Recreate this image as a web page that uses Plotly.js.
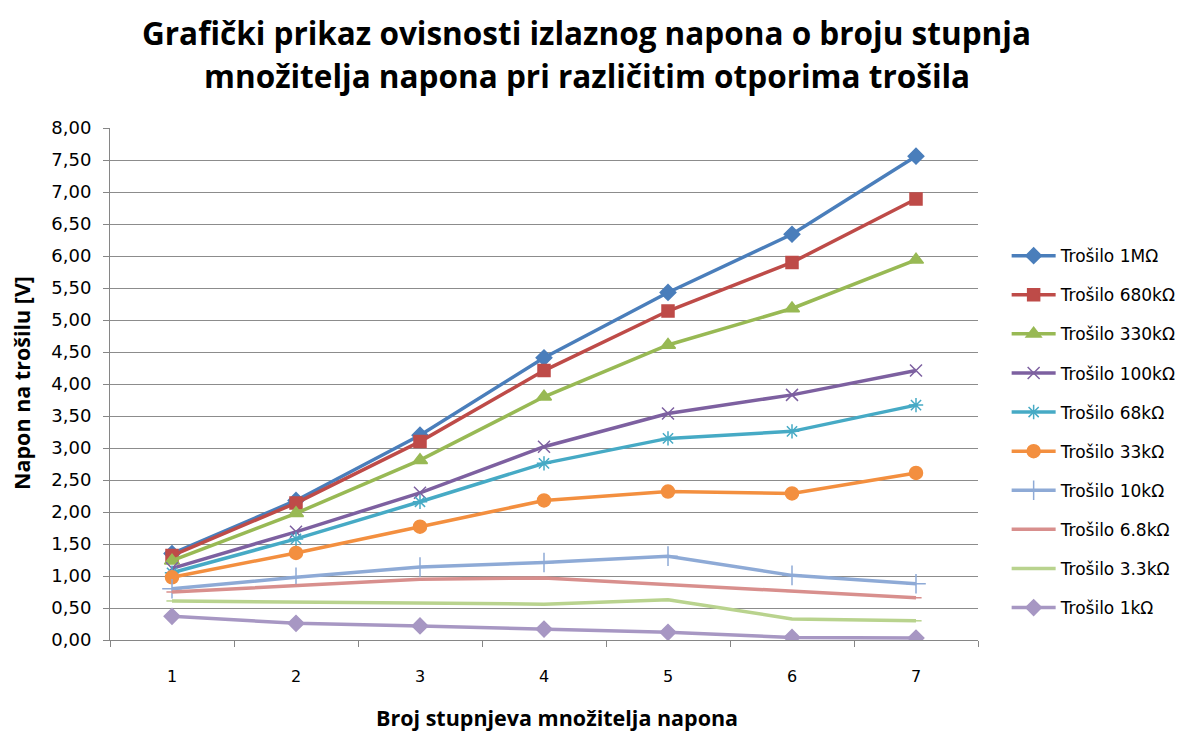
<!DOCTYPE html>
<html>
<head>
<meta charset="utf-8">
<script src="https://cdn.plot.ly/plotly-3.0.1.min.js"></script>
<style>html,body{margin:0;padding:0;background:#fff;}#chart{width:1184px;height:731px;}</style>
</head>
<body>
<div id="chart"></div>
<script>
const categories = ["1", "2", "3", "4", "5", "6", "7"];
const seriesNames = ["Trošilo 1MΩ", "Trošilo 680kΩ", "Trošilo 330kΩ", "Trošilo 100kΩ", "Trošilo 68kΩ",
  "Trošilo 33kΩ", "Trošilo 10kΩ", "Trošilo 6.8kΩ", "Trošilo 3.3kΩ", "Trošilo 1kΩ"];
const v1M   = [1.35, 2.18, 3.20, 4.41, 5.43, 6.34, 7.56];
const v680k = [1.32, 2.14, 3.10, 4.21, 5.14, 5.90, 6.89];
const v330k = [1.24, 1.98, 2.81, 3.80, 4.61, 5.18, 5.94];
const v100k = [1.12, 1.69, 2.30, 3.02, 3.54, 3.83, 4.21];
const v68k  = [1.05, 1.58, 2.16, 2.76, 3.15, 3.26, 3.67];
const v33k  = [0.98, 1.36, 1.77, 2.18, 2.32, 2.29, 2.61];
const v10k  = [0.80, 0.98, 1.14, 1.21, 1.31, 1.01, 0.88];
const v6k8  = [0.75, 0.85, 0.95, 0.97, 0.87, 0.76, 0.66];
const v3k3  = [0.61, 0.59, 0.58, 0.56, 0.63, 0.33, 0.30];
const v1k   = [0.37, 0.26, 0.22, 0.17, 0.12, 0.04, 0.03];
const yTickVals = [0, 0.5, 1, 1.5, 2, 2.5, 3, 3.5, 4, 4.5, 5, 5.5, 6, 6.5, 7, 7.5, 8];
const titleLines = ["Grafički prikaz ovisnosti izlaznog napona o broju stupnja",
                    "množitelja napona pri različitim otporima trošila"];
const xTitle = "Broj stupnjeva množitelja napona";
const yTitle = "Napon na trošilu [V]";

const allValues = [v1M, v680k, v330k, v100k, v68k, v33k, v10k, v6k8, v3k3, v1k];
const colors = ["#4A7EBB", "#BE4B48", "#98B954", "#7D60A0", "#46AAC5", "#F38F3F", "#8EAAD6", "#D88F8D", "#B9D38E", "#A797C3"];
const markers = [
  {symbol: "diamond", size: 12},
  {symbol: "square", size: 12},
  {symbol: "triangle-up", size: 13},
  {symbol: "x-thin-open", size: 12},
  {symbol: "asterisk-open", size: 12},
  {symbol: "circle", size: 13},
  {symbol: "cross-thin-open", size: 14},
  {symbol: "line-ew-open", size: 8},
  {symbol: "line-ew-open", size: 8},
  {symbol: "diamond", size: 12}
];

const tickFont = "'DejaVu Sans', sans-serif";
const boldFont = "'Open Sans', sans-serif";
const traces = allValues.map((vals, i) => ({
  type: "scatter",
  mode: "lines+markers",
  x: categories,
  y: vals,
  name: seriesNames[i],
  legendgroup: "g" + i,
  line: {color: colors[i], width: 3.5},
  marker: {symbol: markers[i].symbol, size: markers[i].size, color: colors[i],
           line: {color: colors[i], width: 1.5}}
}));

const layout = {
  width: 1184, height: 731,
  paper_bgcolor: "#ffffff", plot_bgcolor: "#ffffff",
  separators: ", ",
  margin: {l: 110, r: 206, t: 128, b: 91, autoexpand: false},
  annotations: [
    {text: "<b>" + titleLines[0] + "</b>", xref: "paper", yref: "paper", x: 0.549, y: 1.1875,
     xanchor: "center", yanchor: "middle", showarrow: false,
     font: {family: boldFont, size: 31.5, color: "#000000"}},
    {text: "<b>" + titleLines[1] + "</b>", xref: "paper", yref: "paper", x: 0.549, y: 1.1035,
     xanchor: "center", yanchor: "middle", showarrow: false,
     font: {family: boldFont, size: 31.5, color: "#000000"}},
    {text: "<b>" + xTitle + "</b>", xref: "paper", yref: "paper", x: 0.515, y: -0.152,
     xanchor: "center", yanchor: "middle", showarrow: false,
     font: {family: boldFont, size: 21.5, color: "#000000"}},
    {text: "<b>" + yTitle + "</b>", xref: "paper", yref: "paper", x: -0.1014, y: 0.502,
     xanchor: "center", yanchor: "middle", showarrow: false, textangle: -90,
     font: {family: boldFont, size: 21.5, color: "#000000"}}
  ],
  xaxis: {
    type: "category",
    range: [-0.5, 6.5],
    tickson: "boundaries",
    ticks: "outside", ticklen: 6, tickcolor: "#868686",
    showgrid: false, showline: true, linecolor: "#868686", linewidth: 1,
    ticklabelstandoff: 22,
    tickfont: {family: tickFont, size: 16, color: "#000000"},
    zeroline: false, fixedrange: true
  },
  yaxis: {
    range: [0, 8],
    tickmode: "array", tickvals: yTickVals,
    tickformat: ".2f",
    ticks: "outside", ticklen: 6, tickcolor: "#868686",
    showgrid: true, gridcolor: "#8C8C8C", gridwidth: 1,
    showline: true, linecolor: "#868686", linewidth: 1,
    ticklabelstandoff: 8,
    tickfont: {family: tickFont, size: 18, color: "#000000"},
    zeroline: false, fixedrange: true
  },
  legend: {
    x: 1.033, xanchor: "left", y: 0.785, yanchor: "top",
    font: {family: tickFont, size: 17, color: "#000000"},
    traceorder: "grouped", tracegroupgap: 14,
    itemwidth: 44, bgcolor: "rgba(0,0,0,0)"
  },
  showlegend: true
};

Plotly.newPlot("chart", traces, layout, {displayModeBar: false, staticPlot: true});
</script>
</body>
</html>
